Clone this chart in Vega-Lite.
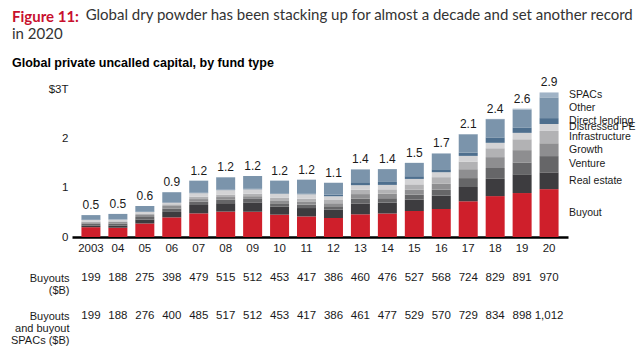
{
  "$schema": "https://vega.github.io/schema/vega-lite/v6.json",
  "autosize": {"type": "pad"},
  "padding": {"left": 10, "top": 8, "right": 5, "bottom": 5},
  "background": "white",
  "config": {"view": {"stroke": null}, "font": "Liberation Sans"},
  "title": {
    "text": "Figure 11:",
    "subtitle": ["\u2800\u2800\u2800\u2800\u2800\u2800\u00a0 Global dry powder has been stacking up for almost a decade and set another record", "in 2020"],
    "anchor": "start",
    "frame": "group",
    "dx": -60,
    "font": "Lato",
    "fontSize": 15,
    "fontWeight": "bold",
    "color": "#C8102E",
    "subtitleFont": "Lato",
    "subtitleFontSize": 15,
    "subtitleFontWeight": "normal",
    "subtitleColor": "#333333",
    "subtitleLineHeight": 19,
    "subtitlePadding": -16.5,
    "offset": 13
  },
  "datasets": {
    "segments": [
      {"year": "2003", "Buyout": 0.199, "Real estate": 0.035, "Venture": 0.04, "Growth": 0.025, "Infrastructure": 0.015, "Distressed PE": 0.03, "Direct lending": 0.005, "Other": 0.095, "SPACs": 0},
      {"year": "04", "Buyout": 0.188, "Real estate": 0.045, "Venture": 0.04, "Growth": 0.03, "Infrastructure": 0.015, "Distressed PE": 0.035, "Direct lending": 0.005, "Other": 0.11, "SPACs": 0},
      {"year": "05", "Buyout": 0.275, "Real estate": 0.08, "Venture": 0.05, "Growth": 0.04, "Infrastructure": 0.03, "Distressed PE": 0.03, "Direct lending": 0.005, "Other": 0.12, "SPACs": 0},
      {"year": "06", "Buyout": 0.398, "Real estate": 0.11, "Venture": 0.07, "Growth": 0.05, "Infrastructure": 0.035, "Distressed PE": 0.035, "Direct lending": 0.01, "Other": 0.2, "SPACs": 0},
      {"year": "07", "Buyout": 0.479, "Real estate": 0.17, "Venture": 0.07, "Growth": 0.05, "Infrastructure": 0.05, "Distressed PE": 0.07, "Direct lending": 0.01, "Other": 0.24, "SPACs": 0.006},
      {"year": "08", "Buyout": 0.515, "Real estate": 0.17, "Venture": 0.07, "Growth": 0.055, "Infrastructure": 0.05, "Distressed PE": 0.09, "Direct lending": 0.01, "Other": 0.25, "SPACs": 0.002},
      {"year": "09", "Buyout": 0.512, "Real estate": 0.19, "Venture": 0.07, "Growth": 0.055, "Infrastructure": 0.05, "Distressed PE": 0.09, "Direct lending": 0.01, "Other": 0.26, "SPACs": 0},
      {"year": "10", "Buyout": 0.453, "Real estate": 0.16, "Venture": 0.07, "Growth": 0.06, "Infrastructure": 0.05, "Distressed PE": 0.08, "Direct lending": 0.01, "Other": 0.26, "SPACs": 0},
      {"year": "11", "Buyout": 0.417, "Real estate": 0.17, "Venture": 0.07, "Growth": 0.065, "Infrastructure": 0.055, "Distressed PE": 0.09, "Direct lending": 0.015, "Other": 0.28, "SPACs": 0},
      {"year": "12", "Buyout": 0.386, "Real estate": 0.17, "Venture": 0.065, "Growth": 0.065, "Infrastructure": 0.065, "Distressed PE": 0.075, "Direct lending": 0.034, "Other": 0.24, "SPACs": 0},
      {"year": "13", "Buyout": 0.46, "Real estate": 0.22, "Venture": 0.1, "Growth": 0.09, "Infrastructure": 0.09, "Distressed PE": 0.09, "Direct lending": 0.06, "Other": 0.26, "SPACs": 0.001},
      {"year": "14", "Buyout": 0.476, "Real estate": 0.22, "Venture": 0.09, "Growth": 0.09, "Infrastructure": 0.09, "Distressed PE": 0.09, "Direct lending": 0.06, "Other": 0.26, "SPACs": 0.001},
      {"year": "15", "Buyout": 0.527, "Real estate": 0.23, "Venture": 0.1, "Growth": 0.1, "Infrastructure": 0.11, "Distressed PE": 0.11, "Direct lending": 0.055, "Other": 0.27, "SPACs": 0.002},
      {"year": "16", "Buyout": 0.568, "Real estate": 0.27, "Venture": 0.12, "Growth": 0.12, "Infrastructure": 0.135, "Distressed PE": 0.1, "Direct lending": 0.06, "Other": 0.32, "SPACs": 0.002},
      {"year": "17", "Buyout": 0.724, "Real estate": 0.29, "Venture": 0.18, "Growth": 0.18, "Infrastructure": 0.155, "Distressed PE": 0.115, "Direct lending": 0.068, "Other": 0.37, "SPACs": 0.005},
      {"year": "18", "Buyout": 0.829, "Real estate": 0.35, "Venture": 0.22, "Growth": 0.22, "Infrastructure": 0.18, "Distressed PE": 0.11, "Direct lending": 0.11, "Other": 0.37, "SPACs": 0.005},
      {"year": "19", "Buyout": 0.891, "Real estate": 0.38, "Venture": 0.24, "Growth": 0.25, "Infrastructure": 0.22, "Distressed PE": 0.13, "Direct lending": 0.11, "Other": 0.36, "SPACs": 0.02},
      {"year": "20", "Buyout": 0.97, "Real estate": 0.34, "Venture": 0.33, "Growth": 0.26, "Infrastructure": 0.25, "Distressed PE": 0.14, "Direct lending": 0.12, "Other": 0.42, "SPACs": 0.1}
    ],
    "totals": [
      {"year": "2003", "label": "0.5"}, {"year": "04", "label": "0.5"}, {"year": "05", "label": "0.6"},
      {"year": "06", "label": "0.9"}, {"year": "07", "label": "1.2"}, {"year": "08", "label": "1.2"},
      {"year": "09", "label": "1.2"}, {"year": "10", "label": "1.2"}, {"year": "11", "label": "1.2"},
      {"year": "12", "label": "1.1"}, {"year": "13", "label": "1.4"}, {"year": "14", "label": "1.4"},
      {"year": "15", "label": "1.5"}, {"year": "16", "label": "1.7"}, {"year": "17", "label": "2.1"},
      {"year": "18", "label": "2.4"}, {"year": "19", "label": "2.6"}, {"year": "20", "label": "2.9"}
    ],
    "table": [
      {"year": "2003", "buyouts": 199, "withSpacs": 199},
      {"year": "04", "buyouts": 188, "withSpacs": 188},
      {"year": "05", "buyouts": 275, "withSpacs": 276},
      {"year": "06", "buyouts": 398, "withSpacs": 400},
      {"year": "07", "buyouts": 479, "withSpacs": 485},
      {"year": "08", "buyouts": 515, "withSpacs": 517},
      {"year": "09", "buyouts": 512, "withSpacs": 512},
      {"year": "10", "buyouts": 453, "withSpacs": 453},
      {"year": "11", "buyouts": 417, "withSpacs": 417},
      {"year": "12", "buyouts": 386, "withSpacs": 386},
      {"year": "13", "buyouts": 460, "withSpacs": 461},
      {"year": "14", "buyouts": 476, "withSpacs": 477},
      {"year": "15", "buyouts": 527, "withSpacs": 529},
      {"year": "16", "buyouts": 568, "withSpacs": 570},
      {"year": "17", "buyouts": 724, "withSpacs": 729},
      {"year": "18", "buyouts": 829, "withSpacs": 834},
      {"year": "19", "buyouts": 891, "withSpacs": 898},
      {"year": "20", "buyouts": 970, "withSpacs": 1012}
    ]
  },
  "vconcat": [
    {
      "title": {
        "text": "Global private uncalled capital, by fund type",
        "anchor": "start",
        "frame": "group",
        "dx": -60,
        "font": "Liberation Sans",
        "fontSize": 12.5,
        "fontWeight": "bold",
        "color": "#000000",
        "offset": 7
      },
      "width": 496,
      "height": 148,
      "data": {"name": "segments"},
      "transform": [
        {"fold": ["Buyout", "Real estate", "Venture", "Growth", "Infrastructure", "Distressed PE", "Direct lending", "Other", "SPACs"], "as": ["type", "value"]},
        {"calculate": "indexof(['Buyout','Real estate','Venture','Growth','Infrastructure','Distressed PE','Direct lending','Other','SPACs'], datum.type)", "as": "ord"},
        {"stack": "value", "groupby": ["year"], "sort": [{"field": "ord", "order": "ascending"}], "as": ["v0", "v1"]}
      ],
      "layer": [
        {
          "mark": {"type": "bar"},
          "encoding": {
            "x": {
              "field": "year", "type": "nominal",
              "scale": {"type": "band", "domain": ["2003","04","05","06","07","08","09","10","11","12","13","14","15","16","17","18","19","20"], "paddingInner": 0.295, "paddingOuter": 0.35},
              "axis": {"title": null, "labelAngle": 0, "ticks": false, "domainColor": "#000000", "domainWidth": 2.5, "labelPadding": 5, "labelFontSize": 11.5, "labelColor": "#1a1a1a", "labelFont": "Liberation Sans"}
            },
            "y": {
              "field": "v0", "type": "quantitative",
              "scale": {"domain": [0, 3], "nice": false, "zero": true},
              "axis": {"title": null, "values": [0, 1, 2, 3], "labelExpr": "datum.value == 3 ? '$3T' : datum.label", "grid": false, "ticks": false, "domain": false, "labelPadding": 4, "labelFontSize": 11.5, "labelColor": "#1a1a1a", "labelFont": "Liberation Sans"}
            },
            "y2": {"field": "v1"},
            "color": {
              "field": "type", "type": "nominal", "legend": null,
              "scale": {
                "domain": ["Buyout", "Real estate", "Venture", "Growth", "Infrastructure", "Distressed PE", "Direct lending", "Other", "SPACs"],
                "range": ["#CF1F2B", "#3D3C3F", "#666668", "#8E8E90", "#B2B2B4", "#D3D3D5", "#4E6F8E", "#7B94AB", "#A0B3C6"]
              }
            }
          }
        },
        {
          "transform": [
            {"filter": "datum.year == '20'"},
            {"calculate": "(datum.v0 + datum.v1) / 2", "as": "vm"}
          ],
          "mark": {"type": "text", "align": "left", "baseline": "middle", "dx": 20, "fontSize": 10.5, "font": "Liberation Sans", "color": "#1a1a1a"},
          "encoding": {
            "x": {"field": "year", "type": "nominal", "title": null},
            "y": {"field": "vm", "type": "quantitative", "title": null},
            "text": {"field": "type"}
          }
        },
        {
          "transform": [
            {"aggregate": [{"op": "max", "field": "v1", "as": "top"}], "groupby": ["year"]},
            {"lookup": "year", "from": {"data": {"name": "totals"}, "key": "year", "fields": ["label"]}}
          ],
          "mark": {"type": "text", "baseline": "bottom", "dy": -3, "fontSize": 12, "font": "Liberation Sans", "color": "#1a1a1a"},
          "encoding": {
            "x": {"field": "year", "type": "nominal", "title": null},
            "y": {"field": "top", "type": "quantitative", "title": null},
            "text": {"field": "label"}
          }
        }
      ]
    },
    {
      "width": 496,
      "height": 38,
      "data": {"name": "table"},
      "transform": [
        {"fold": ["buyouts", "withSpacs"], "as": ["row", "amount"]}
      ],
      "mark": {"type": "text", "baseline": "top", "fontSize": 11.5, "font": "Liberation Sans", "color": "#1a1a1a"},
      "encoding": {
        "x": {
          "field": "year", "type": "nominal",
          "scale": {"type": "band", "domain": ["2003","04","05","06","07","08","09","10","11","12","13","14","15","16","17","18","19","20"], "paddingInner": 0.295, "paddingOuter": 0.35},
          "axis": null
        },
        "y": {
          "field": "row", "type": "nominal",
          "scale": {"type": "point", "padding": 0, "domain": ["buyouts", "withSpacs"]},
          "axis": {"title": null, "labelExpr": "datum.value == 'buyouts' ? ['Buyouts', '($B)'] : ['Buyouts', 'and buyout', 'SPACs ($B)']", "labelBaseline": "top", "labelAlign": "right", "labelLineHeight": 12, "labelPadding": 3, "ticks": false, "domain": false, "grid": false, "labelOverlap": false, "labelFontSize": 11, "labelColor": "#1a1a1a", "labelFont": "Liberation Sans"}
        },
        "text": {"field": "amount", "type": "quantitative", "format": ","}
      }
    }
  ],
  "spacing": 35,
  "bounds": "flush"
}
